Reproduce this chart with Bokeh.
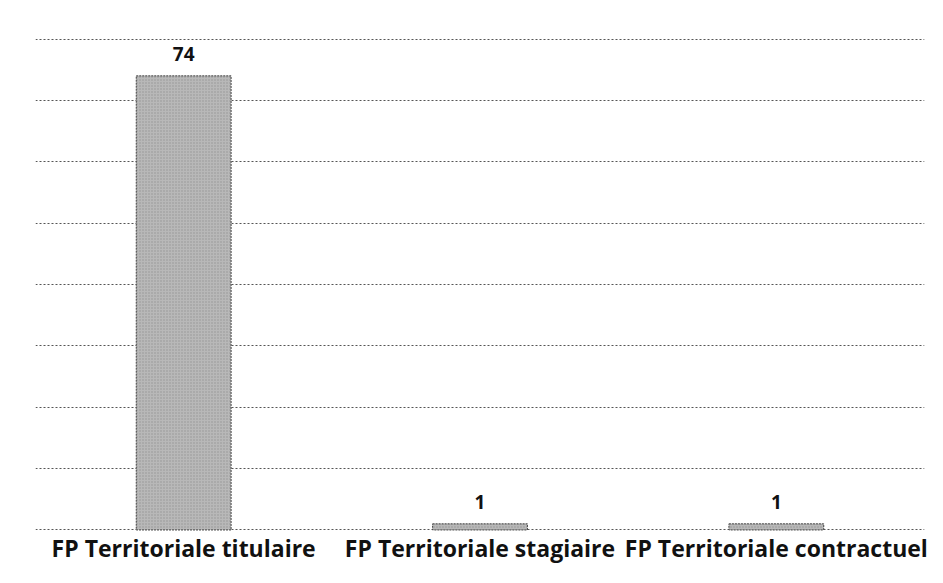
from bokeh.plotting import figure
from bokeh.models import ColumnDataSource, LabelSet, FixedTicker, Range1d
from bokeh.core.properties import value
from bokeh.embed import file_html
from bokeh.resources import INLINE

categories = ["FP Territoriale titulaire", "FP Territoriale stagiaire", "FP Territoriale contractuel"]
values = [74, 1, 1]
grid_ticks = [0, 10, 20, 30, 40, 50, 60, 70, 80]

src = ColumnDataSource(dict(cat=categories, val=values, lab=[str(v) for v in values]))

p = figure(x_range=categories, width=935, height=575, output_backend="svg",
           toolbar_location=None, min_border_left=35, min_border_right=11,
           min_border_top=37, min_border_bottom=44)
p.y_range = Range1d(-0.25, 80.25)

p.vbar(x="cat", top="val", width=0.32, source=src, fill_color="#b8b8b8",
       line_color="#444444", line_dash="2 1", line_width=1,
       hatch_pattern="dot", hatch_scale=3, hatch_color="#7a7a7a", hatch_alpha=0.6)

labels = LabelSet(x="cat", y="val", text="lab", source=src, y_offset=15,
                  text_align="center", text_baseline="bottom",
                  text_font=value("Open Sans"), text_font_size="19px",
                  text_font_style="bold", text_color="#111111")
p.add_layout(labels)

p.yaxis.visible = False
p.yaxis.ticker = FixedTicker(ticks=grid_ticks)
p.ygrid.ticker = FixedTicker(ticks=grid_ticks)
p.ygrid.grid_line_color = "#555555"
p.ygrid.grid_line_dash = "2 2"
p.ygrid.grid_line_width = 1
p.xgrid.grid_line_color = None

p.xaxis.axis_line_color = None
p.xaxis.major_tick_line_color = None
p.xaxis.minor_tick_line_color = None
p.xaxis.major_label_standoff = -6
p.xaxis.major_label_text_font = "Open Sans"
p.xaxis.major_label_text_font_size = "23px"
p.xaxis.major_label_text_font_style = "bold"
p.xaxis.major_label_text_color = "#111111"

p.outline_line_color = None
p.x_range.range_padding = 0

open("out.html", "w").write(file_html(p, INLINE))
